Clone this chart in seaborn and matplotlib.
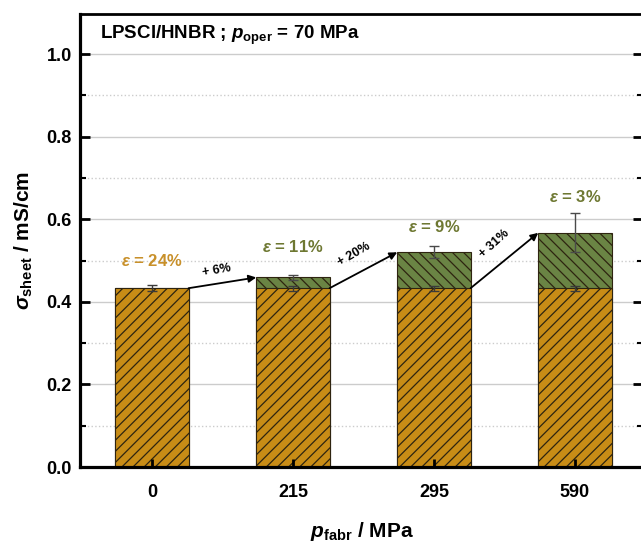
import numpy as np
import pandas as pd
import matplotlib
matplotlib.use('Agg')
import matplotlib.pyplot as plt
import seaborn as sns
from matplotlib.ticker import MultipleLocator

# ---- data ----
pressures = ['0', '215', '295', '590']
base_vals = [0.433, 0.433, 0.433, 0.433]
base_err = [0.007, 0.006, 0.006, 0.006]
total_vals = [0.433, 0.459, 0.520, 0.567]
total_err = [0.0, 0.005, 0.014, 0.047]
eps_labels = ['24%', '11%', '9%', '3%']
gain_labels = ['+ 6%', '+ 20%', '+ 31%']

# ---- style ----
sns.set_style('ticks')
plt.rcParams['font.family'] = ['Liberation Sans', 'DejaVu Sans']
plt.rcParams['font.weight'] = 'bold'
plt.rcParams['axes.labelweight'] = 'bold'
plt.rcParams['text.color'] = 'black'
plt.rcParams['axes.labelcolor'] = 'black'
plt.rcParams['xtick.color'] = 'black'
plt.rcParams['ytick.color'] = 'black'
plt.rcParams['axes.edgecolor'] = 'black'
plt.rcParams['mathtext.fontset'] = 'custom'
plt.rcParams['mathtext.rm'] = 'Liberation Sans:bold'
plt.rcParams['mathtext.bf'] = 'Liberation Sans:bold'
plt.rcParams['mathtext.it'] = 'Liberation Sans:italic:bold'
plt.rcParams['hatch.linewidth'] = 0.9

orange = '#C88C16'
green = '#6A8444'
orange_txt = '#C8902A'
green_txt = '#6E7832'
edge = '#2E2410'
W = 0.52

fig = plt.figure(figsize=(6.41, 5.46), dpi=100)
ax = fig.add_axes([80 / 641, 1 - 467 / 546, 563 / 641, 453 / 546])

df = pd.DataFrame({'p': pressures, 'base': base_vals, 'total': total_vals})

sns.barplot(data=df, x='p', y='total', order=pressures, color=green, saturation=1,
            width=W, errorbar=None, edgecolor=edge, linewidth=0.8, hatch='\\\\\\',
            ax=ax, zorder=1.2)
sns.barplot(data=df, x='p', y='base', order=pressures, color=orange, saturation=1,
            width=W, errorbar=None, edgecolor=edge, linewidth=0.8, hatch='///',
            ax=ax, zorder=1.4)

xs = np.arange(len(pressures))
ax.errorbar(xs, base_vals, yerr=base_err, fmt='none', ecolor='#3a3a3a',
            elinewidth=1, capsize=3.5, capthick=1, zorder=5)
ax.errorbar(xs[1:], total_vals[1:], yerr=total_err[1:], fmt='none', ecolor='#4a4a4a',
            elinewidth=1, capsize=3.5, capthick=1, zorder=5)

# epsilon labels
eps_label_y = [0.50, 0.533, 0.581, 0.654]
for i, lab in enumerate(eps_labels):
    col = orange_txt if i == 0 else green_txt
    ax.text(xs[i], eps_label_y[i], r'$\varepsilon$ = ' + lab, color=col,
            fontsize=12, ha='center', va='center', zorder=6)

# arrows and gains
rots = [10, 30, 42]
offs = [(-4, 9), (-7, 11), (-7, 12)]
for i, lab in enumerate(gain_labels):
    x0, y0 = xs[i] + W / 2, base_vals[i]
    x1, y1 = xs[i + 1] - W / 2, total_vals[i + 1]
    ax.annotate('', xy=(x1, y1), xytext=(x0, y0),
                arrowprops=dict(arrowstyle='-|>', color='black', lw=1.3,
                                mutation_scale=11, shrinkA=0, shrinkB=0), zorder=6)
    ax.annotate(lab, xy=((x0 + x1) / 2, (y0 + y1) / 2), xytext=offs[i],
                textcoords='offset points', ha='center', va='center',
                rotation=rots[i], fontsize=9, color='black', zorder=6)

ax.set_xlim(-0.51, 3.483)
ax.set_ylim(0, 1.097)
ax.yaxis.set_major_locator(MultipleLocator(0.2))
ax.yaxis.set_minor_locator(MultipleLocator(0.1))
ax.set_yticks([0, 0.2, 0.4, 0.6, 0.8, 1.0])
ax.set_yticklabels(['0.0', '0.2', '0.4', '0.6', '0.8', '1.0'])

# grid drawn manually beneath bars; axis (ticks) above bars
ax.grid(False)
for yv in np.arange(0.2, 1.01, 0.2):
    ax.axhline(yv, color='#cccccc', lw=1, zorder=0.5)
for yv in np.arange(0.1, 1.0, 0.2):
    ax.axhline(yv, color='#cccccc', lw=1, ls=':', zorder=0.5)
ax.set_axisbelow(False)

ax.tick_params(axis='y', which='major', direction='in', left=True, right=True,
               length=7, width=2, labelsize=13, pad=6)
ax.tick_params(axis='y', which='minor', direction='in', left=True, right=True,
               length=4, width=1.5)
ax.tick_params(axis='x', which='major', direction='in', bottom=True, top=False,
               length=6, width=2, labelsize=13, pad=12)
for sp in ['left', 'bottom']:
    ax.spines[sp].set_linewidth(2.3)
ax.spines['top'].set_linewidth(2)
ax.spines['right'].set_linewidth(2)
for lab in ax.get_xticklabels() + ax.get_yticklabels():
    lab.set_fontweight('bold')

ax.set_xlabel(r'$p_\mathrm{fabr}$ / MPa', fontsize=15)
ax.xaxis.set_label_coords(0.5, -0.118)
ax.set_ylabel(r'$\sigma_\mathrm{sheet}$ / mS/cm', fontsize=15, labelpad=8)

ax.text(0.036, 0.978, r'LPSCl/HNBR ; $p_\mathrm{oper}$ = 70 MPa', transform=ax.transAxes,
        fontsize=13.5, ha='left', va='top')

fig.savefig('out.png', dpi=100)
